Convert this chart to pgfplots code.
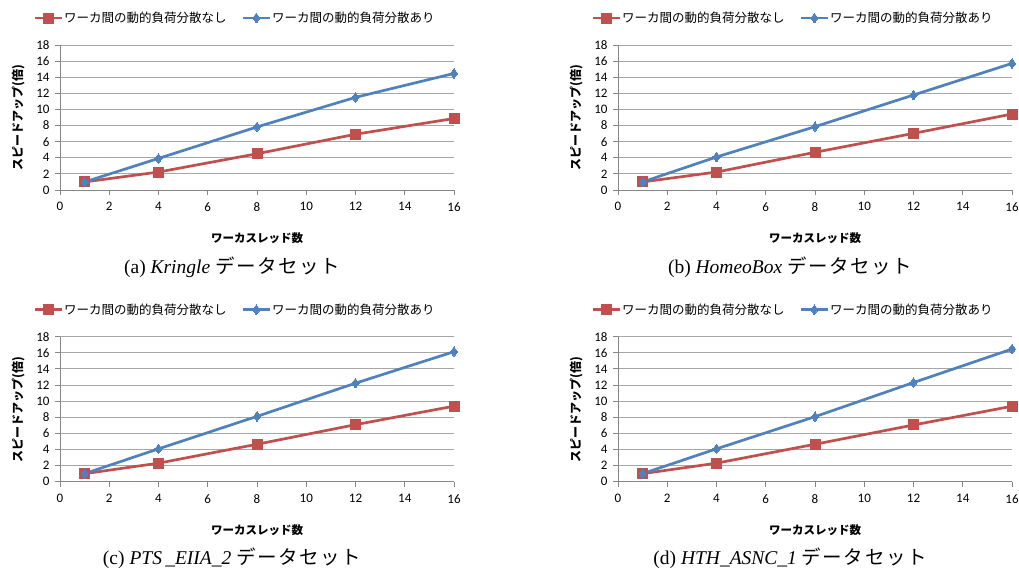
\documentclass[border=0pt]{standalone}
\usepackage{fontspec}
\usepackage{pgfplots}
\pgfplotsset{compat=1.18}
\setmainfont{Liberation Serif}
\newfontfamily\jp{Noto Sans CJK JP}
\newfontfamily\carl{Carlito}
\definecolor{exred}{HTML}{C0504D}
\definecolor{exblue}{HTML}{4F81BD}
\definecolor{gridgray}{HTML}{A6A6A6}
\definecolor{axgray}{HTML}{868686}
\pgfplotsset{
 panel/.style={
  scale only axis, width=394pt, height=145pt,
  xmin=0, xmax=16, ymin=0, ymax=18,
  xtick={0,2,...,16}, ytick={0,2,...,18},
  ymajorgrids, major grid style={color=gridgray, line width=0.9pt},
  axis lines*=left,
  axis line style={color=axgray, line width=0.9pt},
  tick style={color=axgray, line width=0.9pt},
  tick align=outside, major tick length=5pt,
  minor tick num=0,
  ticklabel style={font=\carl\fontsize{13}{13}\selectfont, text=black},
  xticklabel style={yshift=-4pt},
  yticklabel style={xshift=-2pt},
  /pgf/number format/assume math mode=true,
  xlabel={ワーカスレッド数},
  ylabel={スピードアップ(倍)},
  xlabel style={font=\jp\bfseries\fontsize{11.5}{12}\selectfont, at={(axis description cs:0.5,-0.331)}, anchor=center},
  ylabel style={font=\jp\bfseries\fontsize{12}{12}\selectfont, at={(axis description cs:-0.106,0.5)}, anchor=center},
  legend style={draw=none, fill=none, legend columns=2,
    font=\jp\fontsize{12.5}{13}\selectfont,
    at={(axis description cs:0.443,1.186)}, anchor=center,
    /tikz/every even column/.append style={column sep=14pt},
    nodes={inner xsep=1pt},
    inner sep=0pt},
  legend image code/.code={\draw[mark repeat=2,mark phase=2] plot coordinates {(0pt,0pt)(13.5pt,0pt)(27pt,0pt)};},
  legend cell align=left,
 },
 redline/.style={color=exred, line width=2.7pt, mark=square*, mark size=5pt, mark options={fill=exred, draw=exred, line width=0pt}},
 blueline/.style={color=exblue, line width=2.7pt, mark=diamond*, mark size=4.8pt, mark options={fill=exblue, draw=exblue, line width=0pt}},
}
\begin{document}
\begin{tikzpicture}
\useasboundingbox (0pt,0pt) rectangle (1019pt,573pt);
% (a)
\begin{axis}[panel, at={(60pt,383pt)}, anchor=south west]
\addplot[redline] coordinates {(1,1) (4,2.23) (8,4.5) (12,6.92) (16,8.88)};
\addlegendentry{ワーカ間の動的負荷分散なし}
\addplot[blueline] coordinates {(1,1) (4,3.92) (8,7.83) (12,11.5) (16,14.47)};
\addlegendentry{ワーカ間の動的負荷分散あり}
\end{axis}
\node at (232pt,306pt) {\fontsize{19.5}{21}\selectfont (a) \textit{Kringle} {\jp\addfontfeature{LetterSpace=8}データセット}};
% (b)
\begin{axis}[panel, at={(618pt,383pt)}, anchor=south west]
\addplot[redline] coordinates {(1,1) (4,2.23) (8,4.68) (12,7.03) (16,9.43)};
\addlegendentry{ワーカ間の動的負荷分散なし}
\addplot[blueline] coordinates {(1,1) (4,4.1) (8,7.86) (12,11.79) (16,15.72)};
\addlegendentry{ワーカ間の動的負荷分散あり}
\end{axis}
\node at (790pt,306pt) {\fontsize{19.5}{21}\selectfont (b) \textit{HomeoBox} {\jp\addfontfeature{LetterSpace=8}データセット}};
% (c)
\begin{axis}[panel, at={(60pt,91.3pt)}, anchor=south west]
\addplot[redline] coordinates {(1,1) (4,2.3) (8,4.65) (12,7.08) (16,9.38)};
\addlegendentry{ワーカ間の動的負荷分散なし}
\addplot[blueline] coordinates {(1,1) (4,4.08) (8,8.11) (12,12.23) (16,16.14)};
\addlegendentry{ワーカ間の動的負荷分散あり}
\end{axis}
\node at (232pt,15pt) {\fontsize{19.5}{21}\selectfont (c) \textit{PTS\,\_EIIA\_2} {\jp\addfontfeature{LetterSpace=8}データセット}};
% (d)
\begin{axis}[panel, at={(618pt,91.3pt)}, anchor=south west]
\addplot[redline] coordinates {(1,1) (4,2.3) (8,4.65) (12,7.04) (16,9.37)};
\addlegendentry{ワーカ間の動的負荷分散なし}
\addplot[blueline] coordinates {(1,1) (4,4.08) (8,8.07) (12,12.31) (16,16.47)};
\addlegendentry{ワーカ間の動的負荷分散あり}
\end{axis}
\node at (790pt,15pt) {\fontsize{19.5}{21}\selectfont (d) \textit{HTH\_ASNC\_1} {\jp\addfontfeature{LetterSpace=8}データセット}};
\end{tikzpicture}
\end{document}
